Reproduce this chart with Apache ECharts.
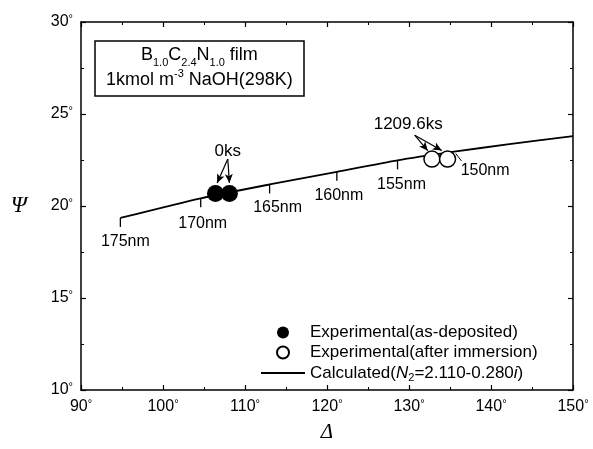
<!DOCTYPE html>
<html>
<head>
<meta charset="utf-8">
<script src="https://cdn.jsdelivr.net/npm/echarts@6/dist/echarts.min.js"></script>
<style>
  html, body { margin: 0; padding: 0; background: #fff; }
  #chart { width: 593px; height: 449px; }
</style>
</head>
<body>
<div id="chart"></div>
<script>
// calculated curve (Delta, Psi)
var calcDelta = [94.8, 104.6, 113.0, 121.2, 128.6, 135.5, 142.0, 150.0];
var calcPsi = [19.35, 20.42, 21.17, 21.86, 22.48, 22.95, 23.35, 23.8];

// film thickness marks on the curve
var nmLabels = ["175nm", "170nm", "165nm", "160nm", "155nm", "150nm"];
var nmDelta = [94.8, 104.6, 113.0, 121.2, 128.6, 135.5];
var nmPsi = [19.35, 20.42, 21.17, 21.86, 22.48, 22.95];

// experimental points
var asDepDelta = [106.4, 108.1];
var asDepPsi = [20.68, 20.68];
var immDelta = [132.8, 134.7];
var immPsi = [22.55, 22.55];

// tick values
var xTicks = [90, 100, 110, 120, 130, 140, 150];
var yTicks = [10, 15, 20, 25, 30];

var seriesNames = [
  "Experimental(as-deposited)",
  "Experimental(after immersion)",
  "Calculated(N2=2.110-0.280i)"
];

function zip(a, b) {
  var out = [];
  for (var i = 0; i < a.length; i++) out.push([a[i], b[i]]);
  return out;
}

var font = "Liberation Sans, Arial, sans-serif";
var degRich = {
  n: { fontSize: 16, fontFamily: font, color: "#000", lineHeight: 18 },
  d: { fontSize: 11, fontFamily: font, color: "#000", verticalAlign: "top", lineHeight: 18 }
};
function degFmt(v) {
  return "{n|" + v + "}{d|°}";
}

// label placement for each thickness mark: [dx, dy]
var nmOffsets = [[5, 3], [2, 4], [8, 2], [2, 3], [4, 3], [31, 2]];

var nmData = [];
for (var i = 0; i < nmLabels.length; i++) {
  nmData.push({
    value: [nmDelta[i], nmPsi[i]],
    name: nmLabels[i],
    symbolSize: i === 5 ? 0 : [1.3, 9],
    label: { offset: nmOffsets[i] }
  });
}

var chart = echarts.init(document.getElementById("chart"));
var axisLine = { lineStyle: { color: "#000", width: 1.5 } };
var tick = { inside: true, length: 5, lineStyle: { color: "#000", width: 1.2 } };
var minor = { show: true, splitNumber: 2, length: 3, lineStyle: { color: "#000" } };

var option = {
  backgroundColor: "#fff",
  animation: false,
  title: {
    text: "{t|B}{s|1.0}{t|C}{s|2.4}{t|N}{s|1.0}{t| film}\n{t|1kmol m}{u|-3}{t| NaOH(298K)}",
    left: 95,
    top: 37,
    borderColor: "#000",
    borderWidth: 1.5,
    padding: [6, 11, 7, 11],
    textStyle: {
      rich: {
        t: { fontSize: 18, fontFamily: font, fontWeight: "normal", color: "#000", lineHeight: 25, align: "center" },
        s: { fontSize: 11, fontFamily: font, fontWeight: "normal", color: "#000", verticalAlign: "bottom", lineHeight: 25, padding: [10, 0, 0, 0], align: "center" },
        u: { fontSize: 11, fontFamily: font, fontWeight: "normal", color: "#000", verticalAlign: "top", lineHeight: 25, align: "center" }
      }
    }
  },
  legend: {
    data: [
      { name: seriesNames[0] },
      { name: seriesNames[1] },
      { name: seriesNames[2], itemStyle: { opacity: 0 } }
    ],
    orient: "vertical",
    left: 255,
    top: 319,
    itemGap: 3,
    itemWidth: 44,
    itemHeight: 12,
    formatter: function (name) {
      if (name === seriesNames[2]) {
        return "{r|Calculated(}{i|N}{b|2}{r|=2.110-0.280}{i|i}{r|)}";
      }
      return "{r|" + name + "}";
    },
    textStyle: {
      rich: {
        r: { fontSize: 17, fontFamily: font, color: "#000", lineHeight: 20 },
        i: { fontSize: 17, fontFamily: font, color: "#000", fontStyle: "italic", lineHeight: 20 },
        b: { fontSize: 11, fontFamily: font, color: "#000", verticalAlign: "bottom", lineHeight: 20, padding: [8, 0, 0, 0] }
      }
    }
  },
  grid: { left: 81, right: 20, top: 22, bottom: 59 },
  xAxis: [
    {
      type: "value",
      min: 90, max: 150, interval: 10,
      name: "Δ",
      nameLocation: "middle",
      nameGap: 32,
      nameTextStyle: { fontSize: 21, fontStyle: "italic", fontFamily: "Liberation Serif, serif", color: "#000" },
      axisLine: axisLine,
      axisTick: tick,
      minorTick: minor,
      splitLine: { show: false },
      axisLabel: { formatter: degFmt, rich: degRich, margin: 8 }
    },
    {
      type: "value",
      position: "top",
      min: 90, max: 150, interval: 10,
      axisLine: axisLine,
      axisTick: tick,
      minorTick: minor,
      splitLine: { show: false },
      axisLabel: { show: false }
    }
  ],
  yAxis: [
    {
      type: "value",
      min: 10, max: 30, interval: 5,
      name: "Ψ",
      nameLocation: "middle",
      nameRotate: 0,
      nameGap: 54,
      nameTextStyle: { fontSize: 23, fontStyle: "italic", fontFamily: "Liberation Serif, serif", color: "#000" },
      axisLine: axisLine,
      axisTick: tick,
      minorTick: minor,
      splitLine: { show: false },
      axisLabel: { formatter: degFmt, rich: degRich, margin: 8 }
    },
    {
      type: "value",
      position: "right",
      min: 10, max: 30, interval: 5,
      axisLine: axisLine,
      axisTick: tick,
      minorTick: minor,
      splitLine: { show: false },
      axisLabel: { show: false }
    }
  ],
  series: [
    {
      name: seriesNames[2],
      type: "line",
      data: zip(calcDelta, calcPsi),
      smooth: 0.2,
      showSymbol: false,
      symbol: "none",
      z: 2,
      color: "#000",
      lineStyle: { color: "#000", width: 1.8 }
    },
    {
      name: "thickness",
      type: "scatter",
      data: nmData,
      symbol: "rect",
      symbolOffset: [0, 4.5],
      z: 2,
      itemStyle: { color: "#000", opacity: 1 },
      label: {
        show: true,
        position: "bottom",
        distance: 4,
        formatter: "{b}",
        fontSize: 16,
        fontFamily: font,
        color: "#000"
      },
      markLine: {
        silent: true,
        symbol: ["none", "none"],
        label: { show: false },
        lineStyle: { color: "#000", width: 1, type: "solid" },
        data: [[{ coord: [136.4, 22.45] }, { coord: [135.7, 22.85] }]]
      }
    },
    {
      name: seriesNames[0],
      type: "scatter",
      data: zip(asDepDelta, asDepPsi),
      symbolSize: 17,
      z: 3,
      itemStyle: { color: "#000", opacity: 1 }
    },
    {
      name: seriesNames[1],
      type: "scatter",
      data: zip(immDelta, immPsi),
      symbolSize: 16,
      z: 3,
      itemStyle: { color: "#fff", borderColor: "#000", borderWidth: 1.5, opacity: 1 }
    },
    {
      name: "time",
      type: "scatter",
      symbolSize: 0,
      itemStyle: { opacity: 1 },
      data: [
        { value: [107.9, 22.95], name: "0ks" },
        { value: [129.9, 24.45], name: "1209.6ks" }
      ],
      label: {
        show: true,
        position: "inside",
        formatter: "{b}",
        fontSize: 17,
        fontFamily: font,
        color: "#000"
      },
      markLine: {
        silent: true,
        symbol: ["none", "arrow"],
        symbolSize: [6, 9],
        label: { show: false },
        lineStyle: { color: "#000", width: 1.2, type: "solid", opacity: 1 },
        data: [
          [{ coord: [107.9, 22.55] }, { coord: [106.6, 21.25] }],
          [{ coord: [107.9, 22.55] }, { coord: [108.1, 21.25] }],
          [{ coord: [130.7, 23.85] }, { coord: [132.3, 23.0] }],
          [{ coord: [130.7, 23.85] }, { coord: [134.0, 23.02] }]
        ]
      }
    }
  ]
};

chart.setOption(option);
</script>
</body>
</html>
